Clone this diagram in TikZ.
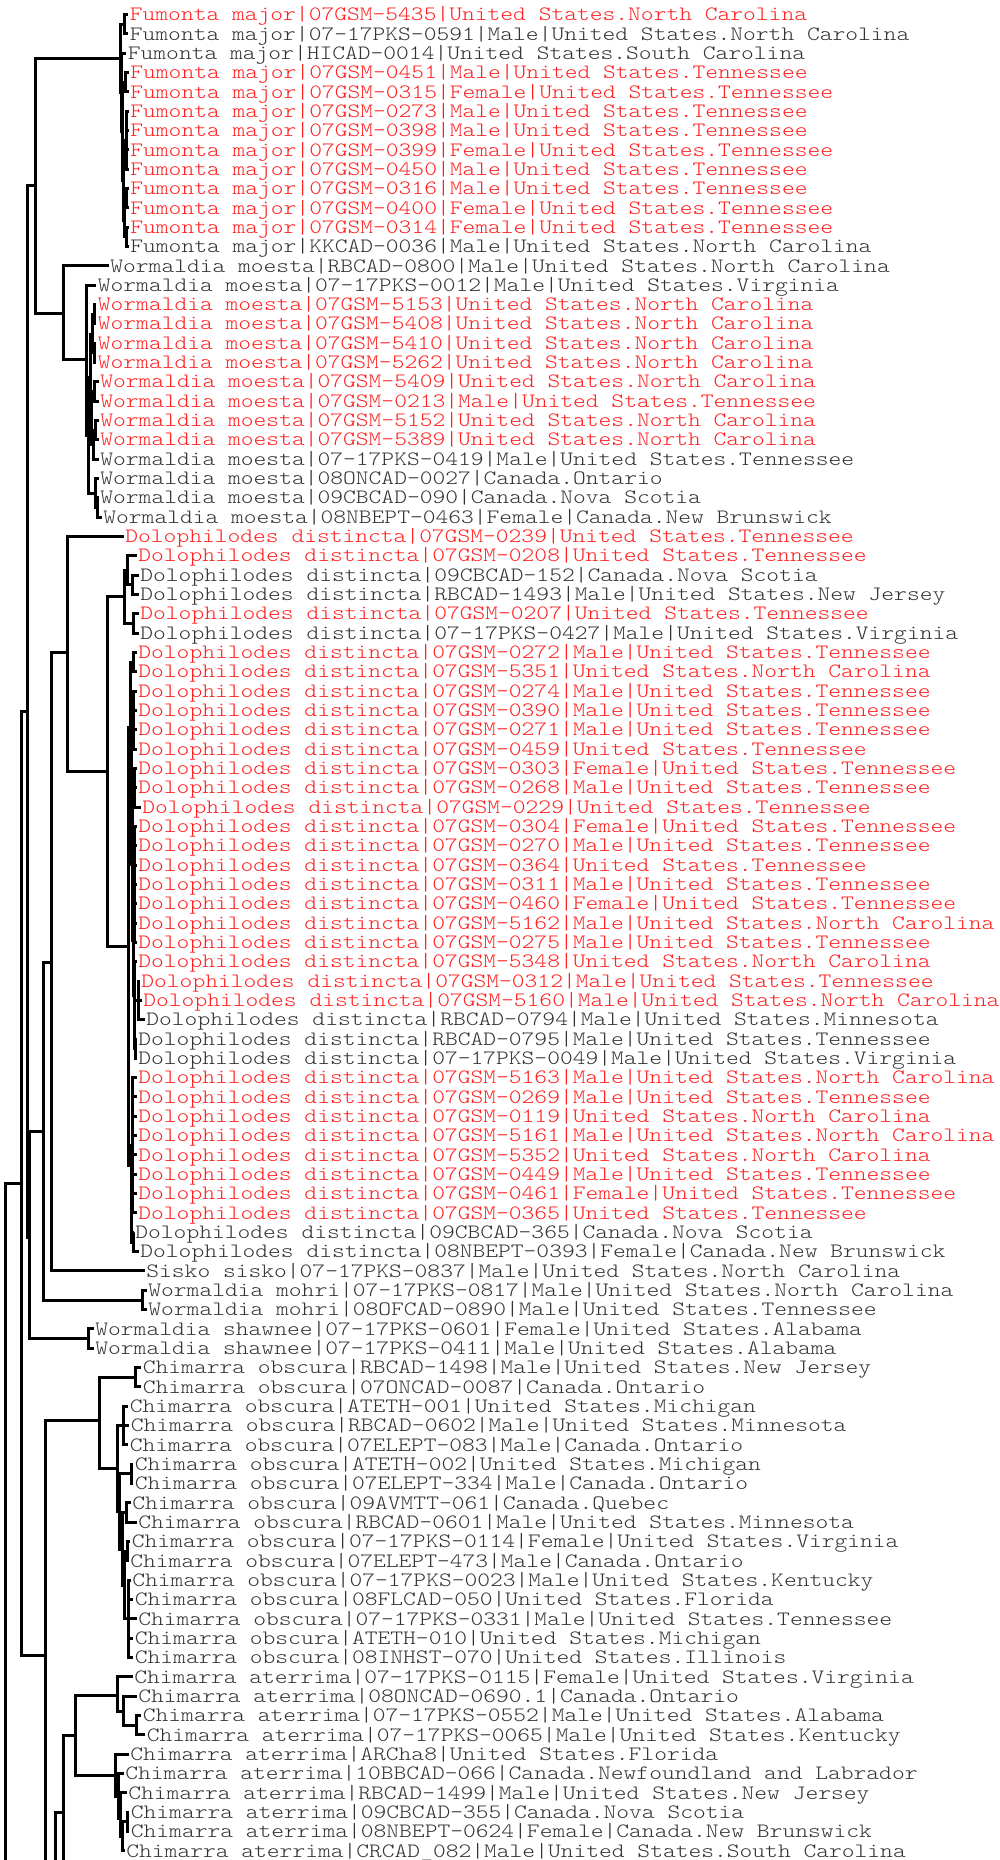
\documentclass[tikz,border=0pt]{standalone}
\usepackage{fontspec}
\newfontfamily\leafont{lmmonolt10-regular.otf}[FakeStretch=1.193]
\definecolor{tgray}{HTML}{333333}
\definecolor{tred}{HTML}{FF2020}
\tikzset{
  leaf/.style={anchor=west, inner xsep=0.75pt, inner ysep=0pt, text height=6.2pt, text depth=0pt,
    font=\leafont\fontsize{10.2pt}{12pt}\selectfont},
  rl/.style={leaf, text=tred},
  gl/.style={leaf, text=tgray},
  br/.style={line width=1.5pt, black}
}
\newcommand{\lf}[4]{\node[#2] (l#1) at ({#3-1.5},{14.5+(#1-1)*19.33}) {#4};}
\newcommand{\el}[2]{\draw[br] (#1) |- (l#2.west);}
\newcommand{\ei}[2]{\draw[br] (#1) |- (#2);}
\begin{document}
\begin{tikzpicture}[x=0.5pt,y=-0.5pt]
\useasboundingbox (0,0) rectangle (1000,1860);
\fill[white] (0,0) rectangle (1000,1860);
\clip (0,0) rectangle (1000,1860);
% ---------------- leaves ----------------
\lf{1}{rl}{129.5}{Fumonta major|07GSM-5435|United States.North Carolina}
\lf{2}{gl}{129.5}{Fumonta major|07-17PKS-0591|Male|United States.North Carolina}
\lf{3}{gl}{127.5}{Fumonta major|HICAD-0014|United States.South Carolina}
\lf{4}{rl}{130}{Fumonta major|07GSM-0451|Male|United States.Tennessee}
\lf{5}{rl}{130}{Fumonta major|07GSM-0315|Female|United States.Tennessee}
\lf{6}{rl}{130}{Fumonta major|07GSM-0273|Male|United States.Tennessee}
\lf{7}{rl}{130}{Fumonta major|07GSM-0398|Male|United States.Tennessee}
\lf{8}{rl}{130}{Fumonta major|07GSM-0399|Female|United States.Tennessee}
\lf{9}{rl}{130}{Fumonta major|07GSM-0450|Male|United States.Tennessee}
\lf{10}{rl}{130}{Fumonta major|07GSM-0316|Male|United States.Tennessee}
\lf{11}{rl}{130}{Fumonta major|07GSM-0400|Female|United States.Tennessee}
\lf{12}{rl}{130}{Fumonta major|07GSM-0314|Female|United States.Tennessee}
\lf{13}{gl}{130}{Fumonta major|KKCAD-0036|Male|United States.North Carolina}
\lf{14}{gl}{110}{Wormaldia moesta|RBCAD-0800|Male|United States.North Carolina}
\lf{15}{gl}{97.5}{Wormaldia moesta|07-17PKS-0012|Male|United States.Virginia}
\lf{16}{rl}{97.5}{Wormaldia moesta|07GSM-5153|United States.North Carolina}
\lf{17}{rl}{97.5}{Wormaldia moesta|07GSM-5408|United States.North Carolina}
\lf{18}{rl}{97.5}{Wormaldia moesta|07GSM-5410|United States.North Carolina}
\lf{19}{rl}{97.5}{Wormaldia moesta|07GSM-5262|United States.North Carolina}
\lf{20}{rl}{100}{Wormaldia moesta|07GSM-5409|United States.North Carolina}
\lf{21}{rl}{100}{Wormaldia moesta|07GSM-0213|Male|United States.Tennessee}
\lf{22}{rl}{100}{Wormaldia moesta|07GSM-5152|United States.North Carolina}
\lf{23}{rl}{100}{Wormaldia moesta|07GSM-5389|United States.North Carolina}
\lf{24}{gl}{100}{Wormaldia moesta|07-17PKS-0419|Male|United States.Tennessee}
\lf{25}{gl}{100}{Wormaldia moesta|08ONCAD-0027|Canada.Ontario}
\lf{26}{gl}{100}{Wormaldia moesta|09CBCAD-090|Canada.Nova Scotia}
\lf{27}{gl}{103}{Wormaldia moesta|08NBEPT-0463|Female|Canada.New Brunswick}
\lf{28}{rl}{125}{Dolophilodes distincta|07GSM-0239|United States.Tennessee}
\lf{29}{rl}{138}{Dolophilodes distincta|07GSM-0208|United States.Tennessee}
\lf{30}{gl}{140}{Dolophilodes distincta|09CBCAD-152|Canada.Nova Scotia}
\lf{31}{gl}{140}{Dolophilodes distincta|RBCAD-1493|Male|United States.New Jersey}
\lf{32}{rl}{140}{Dolophilodes distincta|07GSM-0207|United States.Tennessee}
\lf{33}{gl}{140}{Dolophilodes distincta|07-17PKS-0427|Male|United States.Virginia}
\lf{34}{rl}{138}{Dolophilodes distincta|07GSM-0272|Male|United States.Tennessee}
\lf{35}{rl}{138}{Dolophilodes distincta|07GSM-5351|United States.North Carolina}
\lf{36}{rl}{138}{Dolophilodes distincta|07GSM-0274|Male|United States.Tennessee}
\lf{37}{rl}{138}{Dolophilodes distincta|07GSM-0390|Male|United States.Tennessee}
\lf{38}{rl}{138}{Dolophilodes distincta|07GSM-0271|Male|United States.Tennessee}
\lf{39}{rl}{138}{Dolophilodes distincta|07GSM-0459|United States.Tennessee}
\lf{40}{rl}{138}{Dolophilodes distincta|07GSM-0303|Female|United States.Tennessee}
\lf{41}{rl}{138}{Dolophilodes distincta|07GSM-0268|Male|United States.Tennessee}
\lf{42}{rl}{142}{Dolophilodes distincta|07GSM-0229|United States.Tennessee}
\lf{43}{rl}{138}{Dolophilodes distincta|07GSM-0304|Female|United States.Tennessee}
\lf{44}{rl}{138}{Dolophilodes distincta|07GSM-0270|Male|United States.Tennessee}
\lf{45}{rl}{138}{Dolophilodes distincta|07GSM-0364|United States.Tennessee}
\lf{46}{rl}{138}{Dolophilodes distincta|07GSM-0311|Male|United States.Tennessee}
\lf{47}{rl}{138}{Dolophilodes distincta|07GSM-0460|Female|United States.Tennessee}
\lf{48}{rl}{138}{Dolophilodes distincta|07GSM-5162|Male|United States.North Carolina}
\lf{49}{rl}{138}{Dolophilodes distincta|07GSM-0275|Male|United States.Tennessee}
\lf{50}{rl}{138}{Dolophilodes distincta|07GSM-5348|United States.North Carolina}
\lf{51}{rl}{141}{Dolophilodes distincta|07GSM-0312|Male|United States.Tennessee}
\lf{52}{rl}{143}{Dolophilodes distincta|07GSM-5160|Male|United States.North Carolina}
\lf{53}{gl}{146}{Dolophilodes distincta|RBCAD-0794|Male|United States.Minnesota}
\lf{54}{gl}{138}{Dolophilodes distincta|RBCAD-0795|Male|United States.Tennessee}
\lf{55}{gl}{138}{Dolophilodes distincta|07-17PKS-0049|Male|United States.Virginia}
\lf{56}{rl}{138}{Dolophilodes distincta|07GSM-5163|Male|United States.North Carolina}
\lf{57}{rl}{138}{Dolophilodes distincta|07GSM-0269|Male|United States.Tennessee}
\lf{58}{rl}{138}{Dolophilodes distincta|07GSM-0119|United States.North Carolina}
\lf{59}{rl}{138}{Dolophilodes distincta|07GSM-5161|Male|United States.North Carolina}
\lf{60}{rl}{138}{Dolophilodes distincta|07GSM-5352|United States.North Carolina}
\lf{61}{rl}{138}{Dolophilodes distincta|07GSM-0449|Male|United States.Tennessee}
\lf{62}{rl}{138}{Dolophilodes distincta|07GSM-0461|Female|United States.Tennessee}
\lf{63}{rl}{138}{Dolophilodes distincta|07GSM-0365|United States.Tennessee}
\lf{64}{gl}{135}{Dolophilodes distincta|09CBCAD-365|Canada.Nova Scotia}
\lf{65}{gl}{140}{Dolophilodes distincta|08NBEPT-0393|Female|Canada.New Brunswick}
\lf{66}{gl}{146}{Sisko sisko|07-17PKS-0837|Male|United States.North Carolina}
\lf{67}{gl}{148}{Wormaldia mohri|07-17PKS-0817|Male|United States.North Carolina}
\lf{68}{gl}{148}{Wormaldia mohri|08OFCAD-0890|Male|United States.Tennessee}
\lf{69}{gl}{95}{Wormaldia shawnee|07-17PKS-0601|Female|United States.Alabama}
\lf{70}{gl}{95}{Wormaldia shawnee|07-17PKS-0411|Male|United States.Alabama}
\lf{71}{gl}{142.5}{Chimarra obscura|RBCAD-1498|Male|United States.New Jersey}
\lf{72}{gl}{142.5}{Chimarra obscura|07ONCAD-0087|Canada.Ontario}
\lf{73}{gl}{129.5}{Chimarra obscura|ATETH-001|United States.Michigan}
\lf{74}{gl}{130.5}{Chimarra obscura|RBCAD-0602|Male|United States.Minnesota}
\lf{75}{gl}{129.5}{Chimarra obscura|07ELEPT-083|Male|Canada.Ontario}
\lf{76}{gl}{134.5}{Chimarra obscura|ATETH-002|United States.Michigan}
\lf{77}{gl}{134.5}{Chimarra obscura|07ELEPT-334|Male|Canada.Ontario}
\lf{78}{gl}{132}{Chimarra obscura|09AVMTT-061|Canada.Quebec}
\lf{79}{gl}{138}{Chimarra obscura|RBCAD-0601|Male|United States.Minnesota}
\lf{80}{gl}{131.5}{Chimarra obscura|07-17PKS-0114|Female|United States.Virginia}
\lf{81}{gl}{130}{Chimarra obscura|07ELEPT-473|Male|Canada.Ontario}
\lf{82}{gl}{132}{Chimarra obscura|07-17PKS-0023|Male|United States.Kentucky}
\lf{83}{gl}{134.5}{Chimarra obscura|08FLCAD-050|United States.Florida}
\lf{84}{gl}{138}{Chimarra obscura|07-17PKS-0331|Male|United States.Tennessee}
\lf{85}{gl}{134.5}{Chimarra obscura|ATETH-010|United States.Michigan}
\lf{86}{gl}{134.5}{Chimarra obscura|08INHST-070|United States.Illinois}
\lf{87}{gl}{134}{Chimarra aterrima|07-17PKS-0115|Female|United States.Virginia}
\lf{88}{gl}{138}{Chimarra aterrima|08ONCAD-0690.1|Canada.Ontario}
\lf{89}{gl}{142.5}{Chimarra aterrima|07-17PKS-0552|Male|United States.Alabama}
\lf{90}{gl}{146.5}{Chimarra aterrima|07-17PKS-0065|Male|United States.Kentucky}
\lf{91}{gl}{130}{Chimarra aterrima|ARCha8|United States.Florida}
\lf{92}{gl}{125}{Chimarra aterrima|10BBCAD-066|Canada.Newfoundland and Labrador}
\lf{93}{gl}{128}{Chimarra aterrima|RBCAD-1499|Male|United States.New Jersey}
\lf{94}{gl}{130.5}{Chimarra aterrima|09CBCAD-355|Canada.Nova Scotia}
\lf{95}{gl}{130.5}{Chimarra aterrima|08NBEPT-0624|Female|Canada.New Brunswick}
\lf{96}{gl}{126}{Chimarra aterrima|CRCAD\_082|Male|United States.South Carolina}
% ---------------- internal nodes ----------------
\coordinate (r0) at (5,1905);
\coordinate (n1) at (21,1183);
\coordinate (n2) at (27,711);
\coordinate (n3) at (35,185);
\coordinate (F) at (120,58);
\coordinate (F1) at (124,24.2);
\coordinate (F2) at (121,92);
\coordinate (F3) at (122,131);
\coordinate (F4) at (125,82.2);
\coordinate (F5) at (123,180);
\coordinate (F6) at (126,140.2);
\coordinate (F7) at (124.5,220);
\coordinate (F8) at (126,198.2);
\coordinate (F9) at (126,236.8);
\coordinate (n4) at (63,313);
\coordinate (n5) at (86,359);
\coordinate (n6) at (88,435);
\coordinate (n7) at (90,377);
\coordinate (M1) at (92,334);
\coordinate (M1a) at (94,314.2);
\coordinate (M1b) at (94,352.8);
\coordinate (M2) at (91,420);
\coordinate (M2a) at (94,391.5);
\coordinate (M2b) at (93,444.5);
\coordinate (M2c) at (95,430.1);
\coordinate (M4) at (95,493);
\coordinate (M4a) at (97,507.5);
\coordinate (n10) at (29,1237);
\coordinate (S) at (88,1338.6);
\coordinate (n11) at (43,1131);
\coordinate (Mo) at (142,1300);
\coordinate (n12) at (51,962);
\coordinate (n13) at (67,652);
\coordinate (n14) at (107,771);
\coordinate (n15) at (124,596);
\coordinate (n15a) at (127,570);
\coordinate (n15b) at (133,623.4);
\coordinate (n15c) at (132,584.8);
\coordinate (n16) at (128,946);
\coordinate (A) at (130,727);
\coordinate (A1) at (133,662);
\coordinate (A2) at (131,792);
\coordinate (A3) at (133,720);
\coordinate (A4) at (132,864);
\coordinate (A5) at (134,787.7);
\coordinate (A6) at (133,940);
\coordinate (A7) at (134,884.3);
\coordinate (A8) at (134,995.7);
\coordinate (A9) at (134.5,1025);
\coordinate (A10) at (138,1000.3);
\coordinate (A11) at (135.5,1048.7);
\coordinate (B) at (131,1165);
\coordinate (B1) at (132,1145.3);
\coordinate (B2) at (133,1242);
\coordinate (n20) at (45,1655);
\coordinate (C1) at (99,1420);
\coordinate (C2) at (135,1377.3);
\coordinate (C3) at (117,1468);
\coordinate (C4) at (123,1425.6);
\coordinate (C5) at (119,1511);
\coordinate (C6) at (131,1473.9);
\coordinate (C7) at (122,1549);
\coordinate (C8) at (126,1512.6);
\coordinate (C9) at (124,1585);
\coordinate (C10) at (127,1551.2);
\coordinate (C11) at (128,1618.9);
\coordinate (n21) at (55,1890);
\coordinate (n21e) at (55,1900);
\coordinate (n22) at (63,1812);
\coordinate (n22e) at (63,1900);
\coordinate (n23) at (75,1735);
\coordinate (D1) at (117,1695);
\coordinate (D3) at (123,1711);
\coordinate (D4) at (136,1725.2);
\coordinate (D2) at (115,1775);
\coordinate (D6) at (118,1796);
\coordinate (D7) at (120,1818);
\coordinate (D8) at (122,1836);
\coordinate (D9) at (127,1821.9);
% ---------------- connectors ----------------
\ei{r0}{n1}
\ei{n1}{n2} \ei{n1}{n20}
\ei{n2}{n3} \ei{n2}{n10}
\ei{n3}{F} \ei{n3}{n4}
% Fumonta
\ei{F}{F1} \ei{F}{F2}
\el{F1}{1} \el{F1}{2}
\el{F2}{3} \ei{F2}{F3}
\ei{F3}{F4} \ei{F3}{F5}
\el{F4}{4} \el{F4}{5}
\ei{F5}{F6} \ei{F5}{F7}
\foreach \k in {6,...,9} {\el{F6}{\k}}
\ei{F7}{F8} \ei{F7}{F9}
\el{F8}{10} \el{F8}{11}
\el{F9}{12} \el{F9}{13}
% Wormaldia moesta
\el{n4}{14} \ei{n4}{n5}
\el{n5}{15} \ei{n5}{n6}
\ei{n6}{n7} \ei{n6}{M4}
\ei{n7}{M1} \ei{n7}{M2}
\ei{M1}{M1a} \ei{M1}{M1b}
\el{M1a}{16} \el{M1a}{17}
\el{M1b}{18} \el{M1b}{19}
\ei{M2}{M2a} \ei{M2}{M2b}
\el{M2a}{20} \el{M2a}{21}
\ei{M2b}{M2c} \el{M2b}{24}
\el{M2c}{22} \el{M2c}{23}
\el{M4}{25} \ei{M4}{M4a}
\el{M4a}{26} \el{M4a}{27}
% Dolophilodes & co
\ei{n10}{n11} \ei{n10}{S}
\el{S}{69} \el{S}{70}
\ei{n11}{n12} \ei{n11}{Mo}
\el{Mo}{67} \el{Mo}{68}
\ei{n12}{n13} \el{n12}{66}
\el{n13}{28} \ei{n13}{n14}
\ei{n14}{n15} \ei{n14}{n16}
\ei{n15}{n15a} \ei{n15}{n15b}
\el{n15a}{29} \ei{n15a}{n15c}
\el{n15c}{30} \el{n15c}{31}
\el{n15b}{32} \el{n15b}{33}
\ei{n16}{A} \ei{n16}{B}
\ei{A}{A1} \ei{A}{A2}
\el{A1}{34} \el{A1}{35}
\ei{A2}{A3} \ei{A2}{A4}
\foreach \k in {36,...,39} {\el{A3}{\k}}
\ei{A4}{A5} \ei{A4}{A6}
\foreach \k in {40,...,42} {\el{A5}{\k}}
\ei{A6}{A7} \ei{A6}{A8}
\foreach \k in {43,...,49} {\el{A7}{\k}}
\el{A8}{50} \ei{A8}{A9}
\ei{A9}{A10} \ei{A9}{A11}
\foreach \k in {51,...,53} {\el{A10}{\k}}
\el{A11}{54} \el{A11}{55}
\ei{B}{B1} \ei{B}{B2}
\foreach \k in {56,...,63} {\el{B1}{\k}}
\el{B2}{64} \el{B2}{65}
% Chimarra
\ei{n20}{C1} \ei{n20}{n21}
\ei{C1}{C2} \ei{C1}{C3}
\el{C2}{71} \el{C2}{72}
\ei{C3}{C4} \ei{C3}{C5}
\foreach \k in {73,...,75} {\el{C4}{\k}}
\ei{C5}{C6} \ei{C5}{C7}
\el{C6}{76} \el{C6}{77}
\ei{C7}{C8} \ei{C7}{C9}
\el{C8}{78} \el{C8}{79}
\ei{C9}{C10} \ei{C9}{C11}
\el{C10}{80} \el{C10}{81}
\foreach \k in {82,...,86} {\el{C11}{\k}}
\draw[br] (n21) -- (n21e);
\ei{n21}{n22}
\draw[br] (n22) -- (n22e);
\ei{n22}{n23}
\ei{n23}{D1} \ei{n23}{D2}
\el{D1}{87} \ei{D1}{D3}
\el{D3}{88} \ei{D3}{D4}
\el{D4}{89} \el{D4}{90}
\el{D2}{91} \ei{D2}{D6}
\el{D6}{92} \ei{D6}{D7}
\el{D7}{93} \ei{D7}{D8}
\ei{D8}{D9} \el{D8}{96}
\el{D9}{94} \el{D9}{95}
\end{tikzpicture}
\end{document}
